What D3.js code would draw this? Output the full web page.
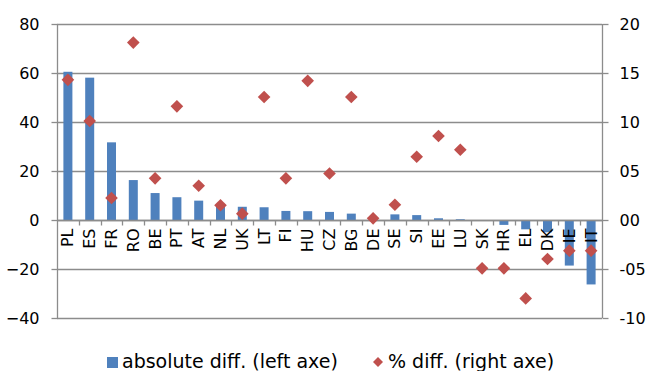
<!DOCTYPE html>
<html>
<head>
<meta charset="utf-8" />
<title>Differences by country</title>
<script src="https://d3js.org/d3.v7.min.js"></script>
<style>
html, body {
	margin: 0;
	background: #fff;
}
text {
	font-family: "DejaVu Sans", Verdana, sans-serif;
	fill: #000;
}
</style>
</head>
<body>
<div id="chart"></div>
<script>

// data
var countries = ["PL","ES","FR","RO","BE","PT","AT","NL","UK","LT","FI","HU","CZ","BG","DE","SE","SI","EE","LU","SK","HR","EL","DK","IE","IT"];
var absDiff = [60.5, 58.1, 31.7, 16.3, 11.0, 9.3, 7.9, 5.6, 5.4, 5.2, 3.7, 3.6, 3.3, 2.6, 0.3, 2.3, 2.0, 0.7, 0.3, -0.3, -2.0, -3.8, -5.0, -18.6, -26.3];
var pctDiff = [14.3, 10.1, 2.25, 18.1, 4.25, 11.6, 3.5, 1.5, 0.65, 12.55, 4.25, 14.2, 4.75, 12.55, 0.17, 1.56, 6.45, 8.57, 7.17, -4.93, -4.93, -8.0, -3.98, -3.13, -3.13];
var leftTicks = [-40, -20, 0, 20, 40, 60, 80];
var rightTicks = [-10, -5, 0, 5, 10, 15, 20];
var rightTickLabels = ["-10", "-05", "00", "05", "10", "15", "20"];

var width = 649, height = 371;
var margin = {top: 24, right: 47, bottom: 53, left: 57};

var svg = d3.select("#chart").append("svg")
	.attr("width", width)
	.attr("height", height);

var x = d3.scaleBand()
	.domain(countries)
	.range([margin.left, width - margin.right]);

var yL = d3.scaleLinear()
	.domain([-40, 80])
	.range([height - margin.bottom, margin.top]);

var yR = d3.scaleLinear()
	.domain([-10, 20])
	.range([height - margin.bottom, margin.top]);

var gridColor = "#8c8c8c";

// gridlines
svg.append("g")
	.selectAll("line")
	.data(leftTicks)
	.enter().append("line")
	.attr("x1", margin.left)
	.attr("x2", width - margin.right)
	.attr("y1", function(d) { return Math.round(yL(d)) + 0.5; })
	.attr("y2", function(d) { return Math.round(yL(d)) + 0.5; })
	.attr("stroke", gridColor)
	.attr("stroke-width", 1.3);

// left axis
var leftAxis = svg.append("g")
	.attr("transform", "translate(" + (margin.left + 0.5) + ",0)")
	.call(d3.axisLeft(yL).tickValues(leftTicks).tickSize(6).tickPadding(12));
leftAxis.selectAll("text").style("font-size", "16px");

// right axis
var rightAxis = svg.append("g")
	.attr("transform", "translate(" + (width - margin.right + 0.5) + ",0)")
	.call(d3.axisRight(yR).tickValues(rightTicks).tickSize(6).tickPadding(11)
		.tickFormat(function(d, i) { return rightTickLabels[i]; }));
rightAxis.selectAll("text").style("font-size", "16px");

[leftAxis, rightAxis].forEach(function(a) {
	a.selectAll("path, line").attr("stroke", gridColor).attr("stroke-width", 1.3);
	a.select(".domain").attr("d", "M0," + yL(80) + "V" + yL(-40));
});

// bars
var barW = 9;
svg.append("g")
	.selectAll("rect")
	.data(absDiff)
	.enter().append("rect")
	.attr("x", function(d, i) { return x(countries[i]) + x.bandwidth() / 2 - barW / 2; })
	.attr("y", function(d) { return yL(Math.max(0, d)); })
	.attr("width", barW)
	.attr("height", function(d) { return Math.abs(yL(d) - yL(0)); })
	.attr("fill", "#4f81bd");

// category axis on zero line
var zeroY = Math.round(yL(0)) + 0.5;
var xg = svg.append("g");
xg.append("line")
	.attr("x1", margin.left).attr("x2", width - margin.right)
	.attr("y1", zeroY).attr("y2", zeroY)
	.attr("stroke", gridColor).attr("stroke-width", 1.3);
xg.selectAll(".tk")
	.data(countries.slice(1))
	.enter().append("line")
	.attr("x1", function(d) { return Math.round(x(d)) + 0.5; })
	.attr("x2", function(d) { return Math.round(x(d)) + 0.5; })
	.attr("y1", zeroY).attr("y2", zeroY + 5)
	.attr("stroke", gridColor).attr("stroke-width", 1.3);
xg.selectAll("text")
	.data(countries)
	.enter().append("text")
	.attr("transform", function(d) {
		return "translate(" + (x(d) + x.bandwidth() / 2 + 5.5) + "," + (zeroY + 8) + ") rotate(-90)";
	})
	.attr("text-anchor", "end")
	.style("font-size", "16px")
	.text(function(d) { return d; });

// diamonds (rotated squares)
var diamond = d3.symbol().type(d3.symbolSquare).size(80);
svg.append("g")
	.selectAll("path")
	.data(pctDiff)
	.enter().append("path")
	.attr("d", diamond)
	.attr("transform", function(d, i) {
		return "translate(" + (x(countries[i]) + x.bandwidth() / 2) + "," + yR(d) + ") rotate(45)";
	})
	.attr("fill", "#c0504d");

// legend
var lg = svg.append("g").attr("transform", "translate(0,368)");
lg.append("rect").attr("x", 107).attr("y", -11).attr("width", 11).attr("height", 11).attr("fill", "#4f81bd");
lg.append("text").attr("x", 122).attr("y", 0).style("font-size", "19px").text("absolute diff. (left axe)");
lg.append("path").attr("d", d3.symbol().type(d3.symbolSquare).size(50))
	.attr("transform", "translate(378,-6) rotate(45)").attr("fill", "#c0504d");
lg.append("text").attr("x", 388).attr("y", 0).style("font-size", "19px").text("% diff. (right axe)");

</script>
</body>
</html>
